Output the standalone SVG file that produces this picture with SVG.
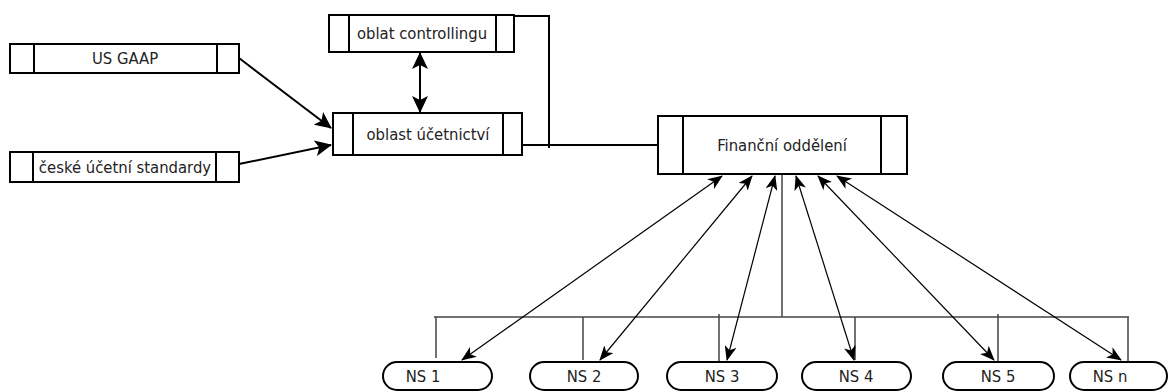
<svg xmlns="http://www.w3.org/2000/svg" width="1171" height="392" viewBox="0 0 1171 392">
<style>
.box{fill:#fff;stroke:#000;stroke-width:2}
.div{stroke:#000;stroke-width:2}
.t{font-family:"DejaVu Sans Condensed","DejaVu Sans",sans-serif;font-stretch:condensed;font-size:16.5px;fill:#222;text-anchor:middle}
.thick{stroke:#000;stroke-width:2;fill:none}
.thin{stroke:#000;stroke-width:1.2;fill:none}
.bus{stroke:#444;stroke-width:1.5;fill:none}
.pill{fill:#fff;stroke:#000;stroke-width:2}
</style>
<defs>
<marker id="hb" viewBox="0 0 17 16" refX="16" refY="8" markerWidth="17" markerHeight="16" markerUnits="userSpaceOnUse" orient="auto-start-reverse">
<path d="M0,0 L17,8 L0,16 L4,8 z" fill="#000"/>
</marker>
<marker id="hs" viewBox="0 0 15 12" refX="14" refY="6" markerWidth="15" markerHeight="12" markerUnits="userSpaceOnUse" orient="auto-start-reverse">
<path d="M0,0 L15,6 L0,12 L4,6 z" fill="#000"/>
</marker>
</defs>
<g id="connectors">
<line class="thick" x1="239" y1="58" x2="331" y2="128" marker-end="url(#hb)"/>
<line class="thick" x1="239" y1="164" x2="331" y2="145" marker-end="url(#hb)"/>
<line class="thick" x1="420" y1="53" x2="420" y2="112" marker-start="url(#hb)" marker-end="url(#hb)"/>
<polyline class="thick" points="514,16 549,16 549,148"/>
<line class="thick" x1="522" y1="145" x2="658" y2="145"/>
<path class="bus" d="M434,317 H1129 M782,174 V317 M436,317 V358 M583,317 V360 M719,314 V362 M855,317 V360 M998,314 V362 M1128,317 V362"/>
<line class="thin" x1="722" y1="176" x2="462" y2="360" marker-start="url(#hs)" marker-end="url(#hs)"/>
<line class="thin" x1="752" y1="176" x2="600" y2="360" marker-start="url(#hs)" marker-end="url(#hs)"/>
<line class="thin" x1="775" y1="176" x2="727" y2="360" marker-start="url(#hs)" marker-end="url(#hs)"/>
<line class="thin" x1="796" y1="176" x2="854" y2="360" marker-start="url(#hs)" marker-end="url(#hs)"/>
<line class="thin" x1="818" y1="176" x2="994" y2="360" marker-start="url(#hs)" marker-end="url(#hs)"/>
<line class="thin" x1="837" y1="176" x2="1121" y2="360" marker-start="url(#hs)" marker-end="url(#hs)"/>
</g>
<g id="us-gaap">
<rect class="box" x="10" y="44" width="229" height="29"/>
<line class="div" x1="34" y1="44" x2="34" y2="73"/>
<line class="div" x1="217" y1="44" x2="217" y2="73"/>
<text class="t" x="125" y="64">US GAAP</text>
</g>
<g id="ceske">
<rect class="box" x="10" y="152" width="229" height="30"/>
<line class="div" x1="33" y1="152" x2="33" y2="182"/>
<line class="div" x1="216" y1="152" x2="216" y2="182"/>
<text class="t" x="125" y="173">české účetní standardy</text>
</g>
<g id="controlling">
<rect class="box" x="329" y="15" width="185" height="37"/>
<line class="div" x1="349" y1="15" x2="349" y2="52"/>
<line class="div" x1="496" y1="15" x2="496" y2="52"/>
<text class="t" x="422" y="39">oblat controllingu</text>
</g>
<g id="ucetnictvi">
<rect class="box" x="333" y="113" width="189" height="42"/>
<line class="div" x1="353" y1="113" x2="353" y2="155"/>
<line class="div" x1="503" y1="113" x2="503" y2="155"/>
<text class="t" x="428" y="140">oblast účetnictví</text>
</g>
<g id="financni">
<rect class="box" x="658" y="116" width="249" height="58"/>
<line class="div" x1="683" y1="116" x2="683" y2="174"/>
<line class="div" x1="881" y1="116" x2="881" y2="174"/>
<text class="t" x="782" y="151">Finanční oddělení</text>
</g>
<g id="ns1"><rect class="pill" x="383" y="362" width="109" height="28" rx="14"/><text class="t" x="423" y="382">NS 1</text></g>
<g id="ns2"><rect class="pill" x="530" y="362" width="108" height="28" rx="14"/><text class="t" x="584" y="382">NS 2</text></g>
<g id="ns3"><rect class="pill" x="667" y="362" width="110" height="28" rx="14"/><text class="t" x="722" y="382">NS 3</text></g>
<g id="ns4"><rect class="pill" x="802" y="362" width="109" height="28" rx="14"/><text class="t" x="856" y="382">NS 4</text></g>
<g id="ns5"><rect class="pill" x="943" y="362" width="111" height="28" rx="14"/><text class="t" x="998" y="382">NS 5</text></g>
<g id="nsn"><rect class="pill" x="1070" y="362" width="97" height="28" rx="14"/><text class="t" x="1110" y="382">NS n</text></g>
</svg>
